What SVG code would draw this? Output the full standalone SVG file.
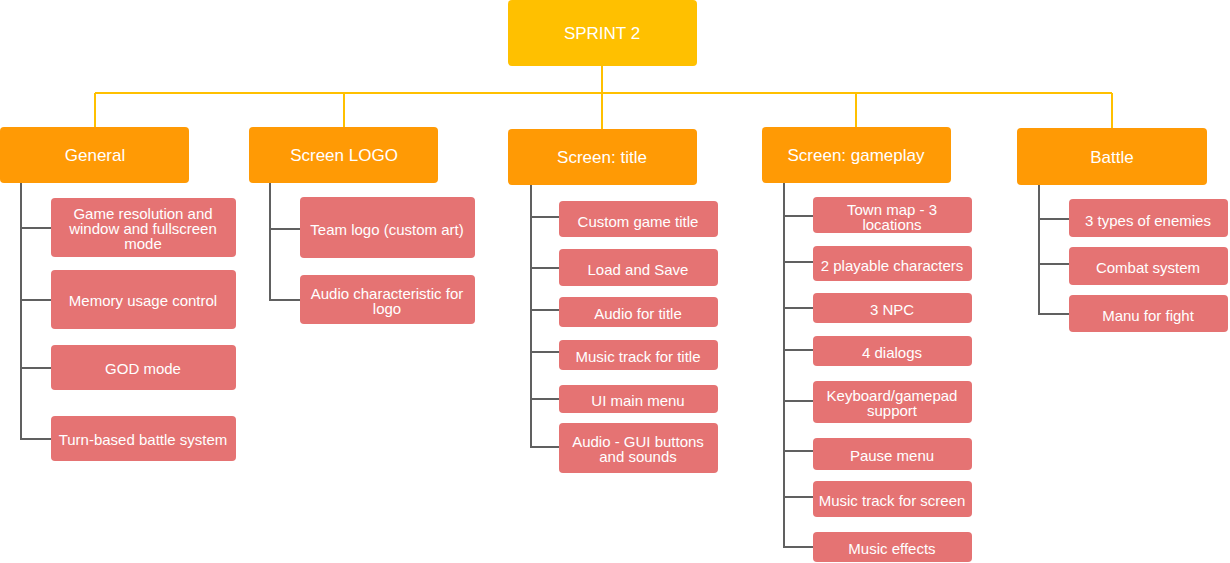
<svg xmlns="http://www.w3.org/2000/svg" width="1230" height="563" viewBox="0 0 1230 563">
<style>
text{font-family:"Liberation Sans",Arial,sans-serif;fill:#ffffff;text-anchor:middle;dominant-baseline:central}
.root{fill:#FFC000}
.hdr{fill:#FF9A05}
.leaf{fill:#E57373}
.h{font-size:17px}
.l{font-size:15px}
.y{stroke:#FFC000;stroke-width:2;fill:none}
.g{stroke:#606060;stroke-width:2;fill:none}
</style>
<rect width="1230" height="563" fill="#ffffff"/>
<g id="connectors">
<path class="y" d="M602 66V129M95 93H1112M95 93V127M344 93V127M856 93V127M1112 93V129"/>
<path class="g" d="M21 183V439H51M21 228H51M21 300H51M21 368H51"/>
<path class="g" d="M270 183V300H300M270 229H300"/>
<path class="g" d="M531 185V447H559M531 217H559M531 268H559M531 310H559M531 352H559M531 399H559"/>
<path class="g" d="M784 183V547H813M784 216H813M784 262H813M784 308H813M784 350H813M784 401H813M784 451H813M784 497H813"/>
<path class="g" d="M1039 185V314H1069M1039 219H1069M1039 264H1069"/>
</g>
<g id="sprint2"><rect class="root" x="508" y="0" width="189" height="66" rx="4"/><text class="h" x="602" y="33">SPRINT 2</text></g>
<g id="general"><rect class="hdr" x="0" y="127" width="189" height="56" rx="4"/><text class="h" x="95" y="155">General</text></g>
<g id="screen-logo"><rect class="hdr" x="249" y="127" width="189" height="56" rx="4"/><text class="h" x="344" y="155">Screen LOGO</text></g>
<g id="screen-title"><rect class="hdr" x="508" y="129" width="189" height="56" rx="4"/><text class="h" x="602" y="157">Screen: title</text></g>
<g id="screen-gameplay"><rect class="hdr" x="762" y="127" width="189" height="56" rx="4"/><text class="h" x="856" y="155">Screen: gameplay</text></g>
<g id="battle"><rect class="hdr" x="1017" y="128" width="190" height="57" rx="4"/><text class="h" x="1112" y="157">Battle</text></g>

<g id="g1"><rect class="leaf" x="51" y="198" width="185" height="59" rx="4"/><text class="l" x="143" y="213">Game resolution and</text><text class="l" x="143" y="228">window and fullscreen</text><text class="l" x="143" y="243">mode</text></g>
<g id="g2"><rect class="leaf" x="51" y="270" width="185" height="59" rx="4"/><text class="l" x="143" y="300">Memory usage control</text></g>
<g id="g3"><rect class="leaf" x="51" y="345" width="185" height="45" rx="4"/><text class="l" x="143" y="368">GOD mode</text></g>
<g id="g4"><rect class="leaf" x="51" y="416" width="185" height="45" rx="4"/><text class="l" x="143" y="439">Turn-based battle system</text></g>

<g id="l1"><rect class="leaf" x="300" y="197" width="175" height="61" rx="4"/><text class="l" x="387" y="229">Team logo (custom art)</text></g>
<g id="l2"><rect class="leaf" x="300" y="275" width="175" height="49" rx="4"/><text class="l" x="387" y="293">Audio characteristic for</text><text class="l" x="387" y="308">logo</text></g>

<g id="t1"><rect class="leaf" x="559" y="201" width="159" height="36" rx="4"/><text class="l" x="638" y="221">Custom game title</text></g>
<g id="t2"><rect class="leaf" x="559" y="249" width="159" height="37" rx="4"/><text class="l" x="638" y="269">Load and Save</text></g>
<g id="t3"><rect class="leaf" x="559" y="297" width="159" height="30" rx="4"/><text class="l" x="638" y="313">Audio for title</text></g>
<g id="t4"><rect class="leaf" x="559" y="340" width="159" height="30" rx="4"/><text class="l" x="638" y="356">Music track for title</text></g>
<g id="t5"><rect class="leaf" x="559" y="385" width="159" height="28" rx="4"/><text class="l" x="638" y="400">UI main menu</text></g>
<g id="t6"><rect class="leaf" x="559" y="423" width="159" height="50" rx="4"/><text class="l" x="638" y="441">Audio - GUI buttons</text><text class="l" x="638" y="456">and sounds</text></g>

<g id="p1"><rect class="leaf" x="813" y="197" width="159" height="36" rx="4"/><text class="l" x="892" y="209">Town map - 3</text><text class="l" x="892" y="224">locations</text></g>
<g id="p2"><rect class="leaf" x="813" y="246" width="159" height="35" rx="4"/><text class="l" x="892" y="265">2 playable characters</text></g>
<g id="p3"><rect class="leaf" x="813" y="293" width="159" height="30" rx="4"/><text class="l" x="892" y="309">3 NPC</text></g>
<g id="p4"><rect class="leaf" x="813" y="336" width="159" height="30" rx="4"/><text class="l" x="892" y="352">4 dialogs</text></g>
<g id="p5"><rect class="leaf" x="813" y="381" width="159" height="42" rx="4"/><text class="l" x="892" y="395">Keyboard/gamepad</text><text class="l" x="892" y="410">support</text></g>
<g id="p6"><rect class="leaf" x="813" y="438" width="159" height="32" rx="4"/><text class="l" x="892" y="455">Pause menu</text></g>
<g id="p7"><rect class="leaf" x="813" y="481" width="159" height="36" rx="4"/><text class="l" x="892" y="500">Music track for screen</text></g>
<g id="p8"><rect class="leaf" x="813" y="532" width="159" height="30" rx="4"/><text class="l" x="892" y="548">Music effects</text></g>

<g id="b1"><rect class="leaf" x="1069" y="199" width="159" height="38" rx="4"/><text class="l" x="1148" y="220">3 types of enemies</text></g>
<g id="b2"><rect class="leaf" x="1069" y="247" width="159" height="38" rx="4"/><text class="l" x="1148" y="267">Combat system</text></g>
<g id="b3"><rect class="leaf" x="1069" y="295" width="159" height="37" rx="4"/><text class="l" x="1148" y="315">Manu for fight</text></g>
</svg>
